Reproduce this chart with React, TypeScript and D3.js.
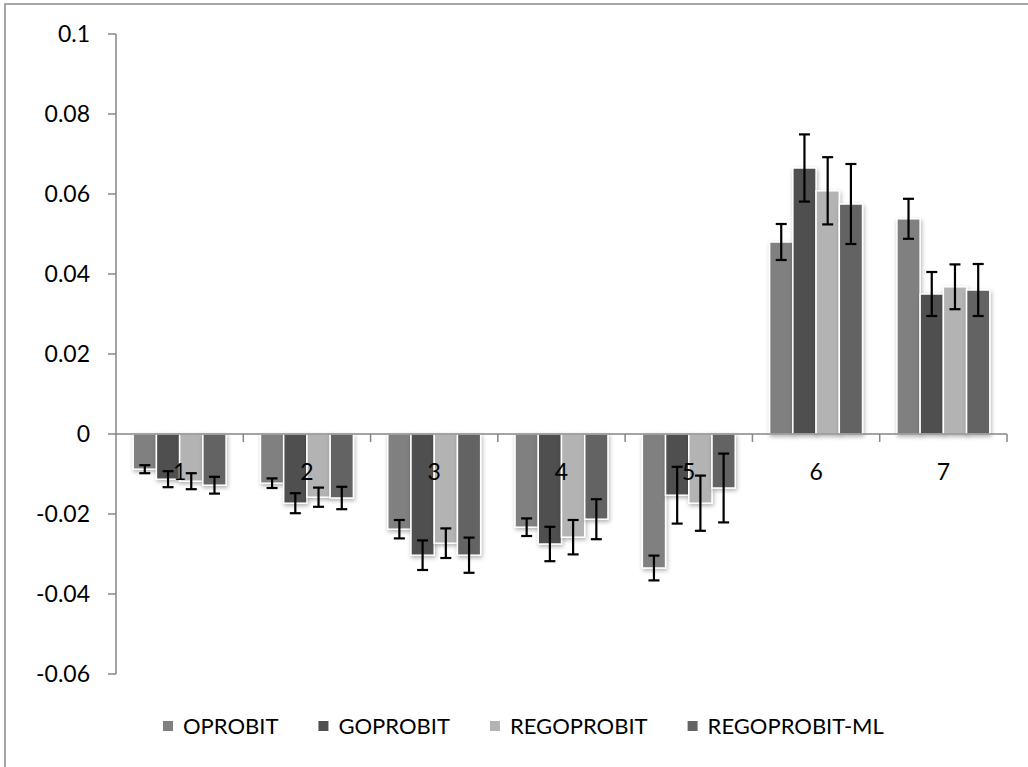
import React, { useRef, useEffect } from 'react';
import * as d3 from 'd3';

const categories = ['1', '2', '3', '4', '5', '6', '7'];
const seriesNames = ['OPROBIT', 'GOPROBIT', 'REGOPROBIT', 'REGOPROBIT-ML'];

const oprobit = [-0.0088, -0.0123, -0.0238, -0.0233, -0.0335, 0.048, 0.0538];
const oprobitErr = [0.001, 0.0012, 0.0023, 0.0022, 0.0031, 0.0045, 0.005];
const goprobit = [-0.0113, -0.0173, -0.0303, -0.0275, -0.0153, 0.0665, 0.035];
const goprobitErr = [0.002, 0.0025, 0.0037, 0.0043, 0.0071, 0.0084, 0.0055];
const regoprobit = [-0.0118, -0.0158, -0.0273, -0.0258, -0.0173, 0.0608, 0.0368];
const regoprobitErr = [0.002, 0.0024, 0.0037, 0.0043, 0.0069, 0.0084, 0.0056];
const regoprobitMl = [-0.0128, -0.016, -0.0303, -0.0213, -0.0135, 0.0575, 0.036];
const regoprobitMlErr = [0.0021, 0.0028, 0.0044, 0.005, 0.0086, 0.01, 0.0065];

const yTicks = [-0.06, -0.04, -0.02, 0, 0.02, 0.04, 0.06, 0.08, 0.1];
const yTickLabels = ['-0.06', '-0.04', '-0.02', '0', '0.02', '0.04', '0.06', '0.08', '0.1'];
const colors = ['#808080', '#4f4f4f', '#b3b3b3', '#646464'];

const values = [oprobit, goprobit, regoprobit, regoprobitMl];
const errors = [oprobitErr, goprobitErr, regoprobitErr, regoprobitMlErr];

type Cell = { cat: string; s: number; v: number; e: number };

const W = 1028;
const H = 767;
const FONT = 'Lato, "Open Sans", sans-serif';

const App: React.FC = () => {
  const svgRef = useRef<SVGSVGElement>(null);

  useEffect(() => {
    if (!svgRef.current) return;
    const svg = d3.select(svgRef.current);
    svg.selectAll('*').remove();

    const left = 116, right = 1007, top = 34, bottom = 674;
    const axisColor = '#868686';

    const y = d3.scaleLinear().domain([-0.06, 0.1]).range([bottom, top]);
    const x0 = d3.scaleBand<string>().domain(categories).range([left, right]).padding(0);
    const x1 = d3.scaleBand<number>()
      .domain(seriesNames.map((_, i) => i))
      .range([0, x0.bandwidth()])
      .paddingInner(0)
      .paddingOuter(0.74);

    const defs = svg.append('defs');
    const f = defs.append('filter').attr('id', 'shadow')
      .attr('x', '-30%').attr('y', '-30%').attr('width', '160%').attr('height', '160%');
    f.append('feDropShadow').attr('dx', 1).attr('dy', 2).attr('stdDeviation', 2)
      .attr('flood-color', '#000').attr('flood-opacity', 0.3);

    // outer chart border (runs past the right and bottom edges)
    svg.append('rect')
      .attr('x', 5).attr('y', 4).attr('width', 1100).attr('height', 900)
      .attr('fill', '#fff').attr('stroke', '#8a8a8a').attr('stroke-width', 1.5);

    // y axis
    const yg = svg.append('g');
    yg.append('line').attr('x1', left).attr('x2', left).attr('y1', top).attr('y2', bottom)
      .attr('stroke', axisColor).attr('stroke-width', 1.5);
    yg.selectAll('line.tick').data(yTicks).enter().append('line')
      .attr('class', 'tick')
      .attr('x1', left - 8).attr('x2', left)
      .attr('y1', d => y(d)).attr('y2', d => y(d))
      .attr('stroke', axisColor).attr('stroke-width', 1.5);
    yg.selectAll('text').data(yTicks).enter().append('text')
      .attr('x', 90).attr('y', d => y(d))
      .attr('dy', '0.35em')
      .attr('text-anchor', 'end')
      .attr('font-family', FONT).attr('font-size', 23).attr('fill', '#000')
      .text((_, i) => yTickLabels[i]);

    // bars
    const cells: Cell[] = [];
    categories.forEach((cat, ci) => {
      values.forEach((arr, s) => cells.push({ cat, s, v: arr[ci], e: errors[s][ci] }));
    });

    svg.append('g').selectAll('rect').data(cells).enter().append('rect')
      .attr('x', d => (x0(d.cat) as number) + (x1(d.s) as number))
      .attr('width', x1.bandwidth())
      .attr('y', d => Math.min(y(d.v), y(0)))
      .attr('height', d => Math.abs(y(d.v) - y(0)))
      .attr('fill', d => colors[d.s])
      .attr('stroke', '#fff').attr('stroke-width', 1.5)
      .attr('filter', 'url(#shadow)');

    // x axis
    const xg = svg.append('g');
    xg.append('line').attr('x1', left).attr('x2', right).attr('y1', y(0)).attr('y2', y(0))
      .attr('stroke', axisColor).attr('stroke-width', 1.5);
    const bounds = categories.map(c => (x0(c) as number) + x0.bandwidth());
    xg.selectAll('line.tick').data(bounds).enter().append('line')
      .attr('class', 'tick')
      .attr('x1', d => d).attr('x2', d => d)
      .attr('y1', y(0)).attr('y2', y(0) + 8)
      .attr('stroke', axisColor).attr('stroke-width', 1.5);
    xg.selectAll('text').data(categories).enter().append('text')
      .attr('x', d => (x0(d) as number) + x0.bandwidth() / 2)
      .attr('y', y(0) + 46)
      .attr('text-anchor', 'middle')
      .attr('font-family', FONT).attr('font-size', 23).attr('fill', '#000')
      .text(d => d);

    // error bars
    const eg = svg.append('g').attr('stroke', '#000').attr('stroke-width', 2.2);
    cells.forEach(d => {
      const cx = (x0(d.cat) as number) + (x1(d.s) as number) + x1.bandwidth() / 2;
      const y1 = y(d.v + d.e), y2 = y(d.v - d.e);
      eg.append('line').attr('x1', cx).attr('x2', cx).attr('y1', y1).attr('y2', y2);
      eg.append('line').attr('x1', cx - 5.5).attr('x2', cx + 5.5).attr('y1', y1).attr('y2', y1);
      eg.append('line').attr('x1', cx - 5.5).attr('x2', cx + 5.5).attr('y1', y2).attr('y2', y2);
    });

    // legend
    const lg = svg.append('g');
    let lx = 163;
    const ly = 734;
    seriesNames.forEach((name, i) => {
      lg.append('rect').attr('x', lx).attr('y', ly - 13).attr('width', 10).attr('height', 10)
        .attr('fill', colors[i]);
      const t = lg.append('text').attr('x', lx + 20).attr('y', ly)
        .attr('font-family', FONT).attr('font-size', 22).attr('fill', '#000')
        .text(name);
      const w = (t.node() as SVGTextElement).getComputedTextLength();
      lx += 20 + w + 40;
    });
  }, []);

  return (
    <div>
      <svg ref={svgRef} width={W} height={H}
        style={{ position: 'absolute', left: 0, top: 0, background: '#fff' }} />
    </div>
  );
};

export default App;
